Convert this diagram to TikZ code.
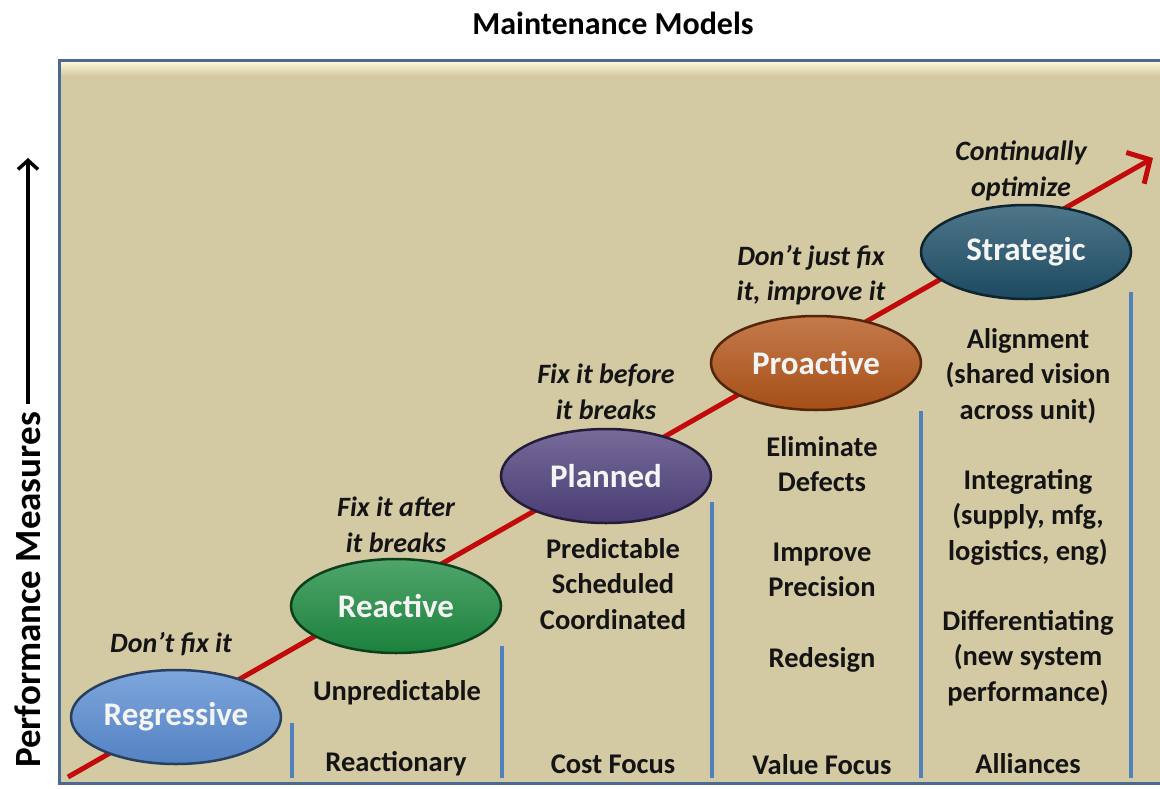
\documentclass[tikz,border=0pt]{standalone}
\usepackage{fontspec}
\setmainfont{Carlito}
\usetikzlibrary{shapes.geometric,arrows.meta}

\definecolor{panelfill}{HTML}{D3C9A3}
\definecolor{panelhi}{HTML}{FBF6D4}
\definecolor{panelborder}{HTML}{4B6996}
\definecolor{dividerblue}{HTML}{4F81BD}
\definecolor{trendred}{HTML}{C20A0A}
\definecolor{regblue}{HTML}{5A8DD3}
\definecolor{reactgreen}{HTML}{1E8C41}
\definecolor{planpurple}{HTML}{50417D}
\definecolor{proorange}{HTML}{B45519}
\definecolor{stratteal}{HTML}{1E5069}

\begin{document}
\begin{tikzpicture}[x=1pt,y=-1pt,
  every node/.style={inner sep=0pt},
  stage/.style={ellipse, minimum width=210pt, minimum height=94pt,
    draw=#1!45!black, line width=2.5pt,
    top color=#1!78!white, bottom color=#1!92!black,
    text=white!96!black, font=\fontsize{33}{36}\selectfont\bfseries},
  motto/.style={align=center, text=black!92,
    font=\fontsize{28}{35.5}\selectfont\bfseries\itshape},
  trait/.style={align=center, text=black!92,
    font=\fontsize{28.5}{35.5}\selectfont\bfseries},
  divider/.style={draw=dividerblue, line width=4pt},
  trend/.style={draw=trendred, line width=5pt,
    -{Straight Barb[length=17pt,width=36pt,line width=5pt]}},
  axisarrow/.style={draw=black, line width=3.5pt,
    -{Straight Barb[length=9pt,width=20pt,line width=3.5pt]}},
]
\useasboundingbox (0,0) rectangle (1160,788);

% title
\node[font=\fontsize{32}{36}\selectfont\bfseries] (title) at (613,23) {Maintenance Models};

% panel with bevelled top edge
\fill[panelfill] (59,60) rectangle (1163,783);
\shade[top color=panelhi, bottom color=panelfill] (61,62) rectangle (1163,76);
\draw[panelborder, line width=3pt] (1163,60) -- (59,60) -- (59,783) -- (1163,783);

% vertical axis label with arrow
\node[rotate=90, font=\fontsize{37}{40}\selectfont\bfseries] (perf) at (28,590) {Performance Measures};
\coordinate (perftop) at (28,158);
\draw[axisarrow] ([yshift=8pt]perf.east) -- (perftop);

% rising trend arrow
\coordinate (trendstart) at (68,777);
\coordinate (trendtip) at (1153,158);
\draw[trend] (trendstart) -- (trendtip);

% column dividers
\draw[divider] (292,723) -- (292,778);
\draw[divider] (502,646) -- (502,778);
\draw[divider] (712,502) -- (712,778);
\draw[divider] (921,411) -- (921,778);
\draw[divider] (1131,292) -- (1131,778);

% maturity stages
\node[stage=regblue]    (reg)   at (176,717) {Regressive};
\node[stage=reactgreen] (react) at (396,606) {Reactive};
\node[stage=planpurple] (plan)  at (606,476) {Planned};
\node[stage=proorange]  (pro)   at (816,363) {Proactive};
\node[stage=stratteal]  (strat) at (1026,252) {Strategic};

% mottos
\node[motto] (m1) at (171,644) {Don’t fix it};
\node[motto] (m2) at (396,525) {Fix it after\\it breaks};
\node[motto] (m3) at (606,392) {Fix it before\\it breaks};
\node[motto] (m4) at (811,275) {Don’t just fix\\it, improve it};
\node[motto] (m5) at (1021,171) {Continually\\optimize};

% reactive column
\node[trait] (t21) at (397,693) {Unpredictable};
\node[trait] (t22) at (396,764) {Reactionary};

% planned column
\node[trait] (t31) at (613,584) {Predictable\\Scheduled\\Coordinated};
\node[trait] (t32) at (613,764) {Cost Focus};

% proactive column
\node[trait] (t41) at (822,464) {Eliminate\\Defects};
\node[trait] (t42) at (822,570) {Improve\\Precision};
\node[trait] (t43) at (822,660) {Redesign};
\node[trait] (t44) at (822,765) {Value Focus};

% strategic column
\node[trait] (t51) at (1028,376) {Alignment\\(shared vision\\across unit)};
\node[trait] (t52) at (1028,517) {Integrating\\(supply, mfg,\\logistics, eng)};
\node[trait] (t53) at (1028,658) {Differentiating\\(new system\\performance)};
\node[trait] (t54) at (1028,764) {Alliances};
\end{tikzpicture}
\end{document}
